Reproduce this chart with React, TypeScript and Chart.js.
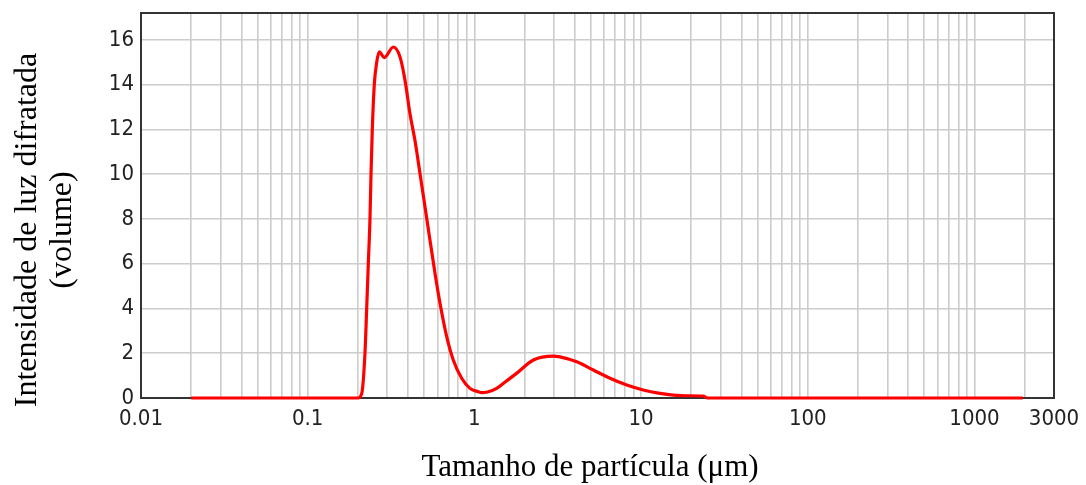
import { useEffect, useRef } from 'react';
import { Chart, registerables } from 'chart.js';

Chart.register(...registerables);

// Particle size (µm) and diffracted light intensity (volume)
const particleSizes = [
  0.02, 0.1, 0.2, 0.2109, 0.2206, 0.2259, 0.231, 0.2364, 0.2398, 0.2441,
  0.2509, 0.2594, 0.2689, 0.2881, 0.3263, 0.3579, 0.3834, 0.4108, 0.4402, 0.4717,
  0.5054, 0.5416, 0.5803, 0.6219, 0.6822, 0.747, 0.8391, 0.9411, 1.055, 1.106,
  1.2, 1.36, 1.55, 1.79, 2.26, 2.98, 3.26, 4.11, 5.17, 6.51,
  8.2, 10.3, 12.98, 15.6, 19, 23.6, 25, 100, 1000, 1950,
];
const intensities = [
  0, 0, 0, 0.2, 2, 4, 6, 8, 10, 12,
  14, 15, 15.46, 15.21, 15.68, 15.24, 14.2, 12.7, 11.5, 10.03,
  8.54, 7.05, 5.57, 4.23, 2.74, 1.7, 0.88, 0.43, 0.28, 0.24,
  0.27, 0.43, 0.75, 1.1, 1.7, 1.875, 1.84, 1.62, 1.25, 0.88,
  0.58, 0.36, 0.21, 0.13, 0.1, 0.09, 0, 0, 0, 0,
];

const xMin = 0.01;
const xMax = 3000;
const xDecades = [0.01, 0.1, 1, 10, 100, 1000];
const xMantissas = [1, 2, 3, 4, 5, 6, 7, 8, 9];
const xTickLabels = [0.01, 0.1, 1, 10, 100, 1000, 3000];
const yTicks = [0, 2, 4, 6, 8, 10, 12, 14, 16];
const yMin = 0;
const yMax = 17.2;

const xTitle = 'Tamanho de partícula (μm)';
const yTitleLines = ['Intensidade de luz difratada', '(volume)'];

const xGridTicks: number[] = [];
xDecades.forEach((d) => {
  xMantissas.forEach((m) => {
    const v = Number((m * d).toPrecision(3));
    if (v <= xMax) xGridTicks.push(v);
  });
});

const tickFont = { family: "'DejaVu Sans Condensed', 'DejaVu Sans', sans-serif", size: 22 };

const framePlugin = {
  id: 'frame',
  beforeDatasetsDraw(chart: any) {
    const { ctx, chartArea: a } = chart;
    ctx.save();
    ctx.strokeStyle = '#333333';
    ctx.lineWidth = 2;
    ctx.strokeRect(a.left, a.top, a.right - a.left, a.bottom - a.top);
    ctx.restore();
  },
  afterDraw(chart: any) {
    const { ctx } = chart;
    ctx.save();
    ctx.fillStyle = '#000000';
    ctx.textAlign = 'center';
    ctx.textBaseline = 'alphabetic';
    ctx.font = '31px "Liberation Serif", "Times New Roman", serif';
    ctx.fillText(xTitle, 590, 476);
    ctx.font = '32px "Liberation Serif", "Times New Roman", serif';
    const baselines = [36, 71];
    yTitleLines.forEach((line, i) => {
      ctx.save();
      ctx.translate(baselines[i], 230);
      ctx.rotate(-Math.PI / 2);
      ctx.fillText(line, 0, 0);
      ctx.restore();
    });
    ctx.restore();
  },
};

export default function App() {
  const canvasRef = useRef<HTMLCanvasElement | null>(null);

  useEffect(() => {
    if (!canvasRef.current) return;
    const data = particleSizes.map((x, i) => ({ x, y: intensities[i] }));
    const chart = new Chart(canvasRef.current, {
      type: 'line',
      data: {
        datasets: [
          {
            data,
            borderColor: '#ff0000',
            borderWidth: 3.2,
            pointRadius: 0,
            fill: false,
            cubicInterpolationMode: 'monotone',
            clip: false as any,
          },
        ],
      },
      options: {
        animation: false,
        responsive: false,
        events: [],
        layout: { padding: { left: 0, right: 32, top: 13, bottom: 0 } },
        plugins: {
          legend: { display: false },
          tooltip: { enabled: false },
          title: { display: false },
        },
        scales: {
          x: {
            type: 'logarithmic',
            min: xMin,
            max: xMax,
            afterBuildTicks: (s: any) => {
              s.ticks = xGridTicks.map((v) => ({ value: v }));
            },
            afterFit: (s: any) => {
              s.height = 87;
              s.paddingLeft = 0;
              s.paddingRight = 0;
            },
            grid: { color: '#cccccc', lineWidth: 1.6, drawTicks: false },
            border: { display: false },
            ticks: {
              autoSkip: false,
              maxRotation: 0,
              padding: 8,
              color: '#222222',
              font: tickFont,
              callback: (v: any) => {
                const n = Number(v);
                const hit = xTickLabels.find((t) => Math.abs(t - n) / t < 1e-6);
                return hit !== undefined ? String(hit) : '';
              },
            },
          },
          y: {
            type: 'linear',
            min: yMin,
            max: yMax,
            afterBuildTicks: (s: any) => {
              s.ticks = yTicks.map((v) => ({ value: v }));
            },
            afterFit: (s: any) => {
              s.width = 141;
              s.paddingTop = 0;
              s.paddingBottom = 0;
            },
            grid: { color: '#cccccc', lineWidth: 1.6, drawTicks: false },
            border: { display: false },
            ticks: {
              padding: 7,
              color: '#222222',
              font: tickFont,
              callback: (v: any) => String(v),
            },
          },
        },
      },
      plugins: [framePlugin],
    });
    return () => chart.destroy();
  }, []);

  return (
    <div style={{ position: 'absolute', left: 0, top: 0, width: 1086, height: 485, background: '#ffffff' }}>
      <canvas ref={canvasRef} width={1086} height={485} style={{ display: 'block' }} />
    </div>
  );
}
